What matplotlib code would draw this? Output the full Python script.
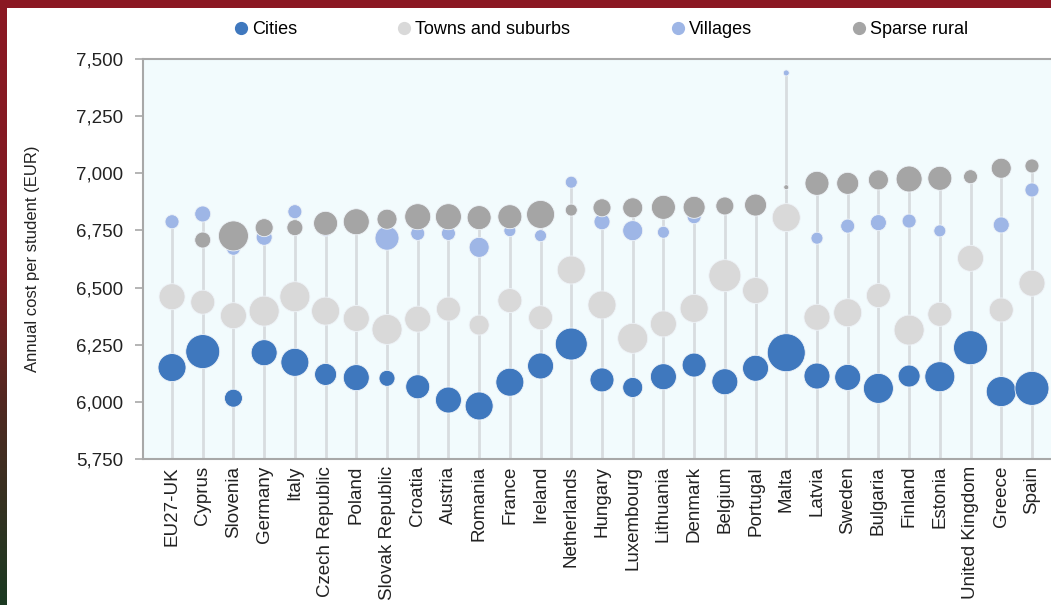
import numpy as np
import matplotlib
matplotlib.use("Agg")
import matplotlib.pyplot as plt
from matplotlib.colors import LinearSegmentedColormap
from matplotlib.lines import Line2D
from matplotlib.ticker import FuncFormatter

plt.rcParams['font.family'] = ['Liberation Sans', 'DejaVu Sans']

nan = np.nan
countries = ["EU27-UK", "Cyprus", "Slovenia", "Germany", "Italy", "Czech Republic", "Poland",
             "Slovak Republic", "Croatia", "Austria", "Romania", "France", "Ireland", "Netherlands",
             "Hungary", "Luxembourg", "Lithuania", "Denmark", "Belgium", "Portugal", "Malta",
             "Latvia", "Sweden", "Bulgaria", "Finland", "Estonia", "United Kingdom", "Greece", "Spain"]

cities = [6150, 6220, 6016, 6215, 6173, 6120, 6106, 6103, 6066, 6008, 5982, 6086, 6157, 6253,
          6096, 6063, 6110, 6161, 6088, 6147, 6215, 6113, 6107, 6059, 6113, 6110, 6237, 6045, 6059]
towns = [6460, 6436, 6377, 6397, 6460, 6397, 6365, 6317, 6362, 6406, 6336, 6443, 6368, 6577,
         6424, 6278, 6341, 6409, 6552, 6487, 6806, 6370, 6390, 6465, 6314, 6383, 6628, 6402, 6519]
villages = [6788, 6822, 6672, 6720, 6832, 6755, 6780, 6716, 6737, 6737, 6676, 6749, 6727, 6961,
            6788, 6749, 6742, 6810, nan, nan, 7439, 6716, 6769, 6784, 6791, 6748, nan, 6774, 6927]
sparse = [nan, 6708, 6726, 6762, 6762, 6781, 6788, 6799, 6810, 6810, 6806, 6810, 6820, 6839,
          6849, 6849, 6851, 6851, 6857, 6861, 6939, 6956, 6956, 6971, 6975, 6978, 6985, 7022, 7032]

# bubble magnitudes (relative)
cities_w = [14, 17, 9, 13, 14, 11, 13, 8, 12, 13, 14, 14, 13, 16, 12, 10, 13, 12, 13, 13, 19,
            13, 13, 15, 11, 15, 17, 15, 17]
towns_w = [13, 12, 13, 15, 15, 14, 13, 15, 13, 12, 10, 12, 12, 14, 14, 15, 13, 14, 16, 13, 14,
           13, 14, 12, 15, 12, 13, 12, 13]
villages_w = [7, 8, 7, 8, 7, 7, 7, 12, 7, 7, 10, 6, 6, 6, 8, 10, 6, 7, 7, 7, 3, 6, 7, 8, 7, 6,
              7, 8, 7]
sparse_w = [7, 8, 15, 9, 8, 12, 13, 10, 13, 13, 12, 12, 14, 6, 9, 10, 12, 11, 9, 11, 2.5, 12,
            11, 10, 13, 12, 7, 10, 7]

series = [
    ("Cities", cities, cities_w, "#3F78BE"),
    ("Towns and suburbs", towns, towns_w, "#D9D9D9"),
    ("Villages", villages, villages_w, "#9EB6E6"),
    ("Sparse rural", sparse, sparse_w, "#A5A5A5"),
]

W, H = 1051, 605
fig = plt.figure(figsize=(W / 100, H / 100), dpi=100)
fig.patch.set_facecolor("white")

# frame strips
top = fig.add_axes([0, 1 - 8 / H, 1, 8 / H])
top.axis("off")
top.add_patch(plt.Rectangle((0, 0), 1, 1, color="#8B1823", transform=top.transAxes))
left = fig.add_axes([0, 0, 7 / W, 1])
cmap = LinearSegmentedColormap.from_list("strip", [(0, "#1B3A22"), (0.3, "#4A2A20"), (0.55, "#7E1C22"), (1, "#8B1823")])
left.imshow(np.linspace(0, 1, 256)[::-1].reshape(-1, 1), aspect="auto", cmap=cmap, extent=[0, 1, 0, 1])
left.axis("off")

ax = fig.add_axes([143 / W, 1 - 459 / H, (W - 143) / W, 400 / H])
ax.set_facecolor("#F2FBFD")
x = np.arange(len(countries))

allv = np.array([cities, towns, villages, sparse], dtype=float)
tops = np.nanmax(allv, axis=0)
ax.vlines(x, 5750, tops, color="#D8DCDF", lw=2, zorder=1)

scale = 1.44
for name, vals, w, col in series:
    s = (scale * np.array(w, dtype=float)) ** 2
    ax.scatter(x, vals, s=s, color=col, edgecolors="#EEF3F8", linewidths=0.6, zorder=3)

ax.set_xlim(-0.945, 28.62)
ax.set_ylim(5750, 7500)
ax.set_yticks(np.arange(5750, 7501, 250))
ax.yaxis.set_major_formatter(FuncFormatter(lambda v, p: f"{int(v):,}"))
ax.set_xticks(x)
ax.set_xticklabels(countries, rotation=90, fontsize=13.5)
ax.tick_params(axis="x", length=0, pad=5, colors="#222222")
ax.tick_params(axis="y", length=6, width=1.2, color="#A8A8A8", labelsize=13.5, pad=8, labelcolor="#222222")
for sp in ["left", "bottom", "top"]:
    ax.spines[sp].set_color("#A8A8A8")
    ax.spines[sp].set_linewidth(1.5)
ax.spines["right"].set_visible(False)
ax.set_ylabel("Annual cost per student (EUR)", fontsize=12, color="#222222", labelpad=26)

handles = [Line2D([], [], marker="o", linestyle="none", markersize=8.5, color=c, markeredgecolor=c)
           for _, _, _, c in series]
fig.legend(handles, [s[0] for s in series], loc="center", bbox_to_anchor=(600 / W, 1 - 30 / H),
           ncol=4, frameon=False, fontsize=13, handletextpad=0.1, columnspacing=5.45,
           handlelength=1.0)

fig.savefig("out.png", dpi=100, facecolor=fig.get_facecolor())
